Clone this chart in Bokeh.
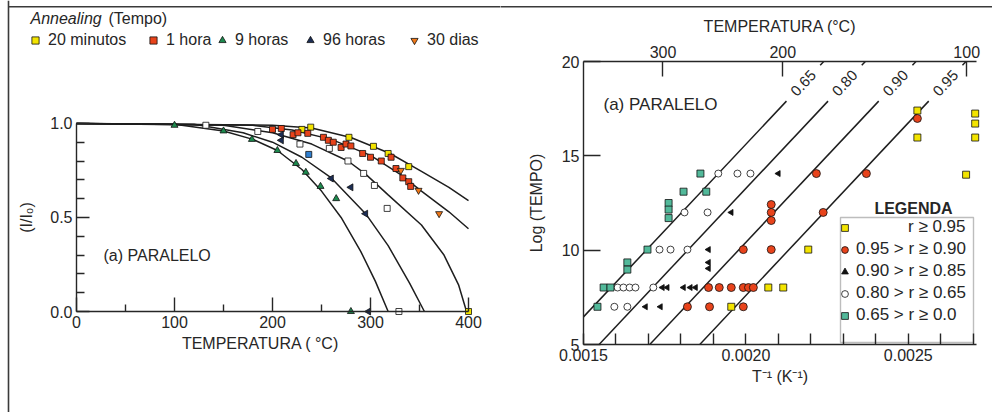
import math
from bokeh.plotting import figure
from bokeh.layouts import row
from bokeh.models import (Range1d, FixedTicker, LinearAxis, Label, BoxAnnotation, Span,
                          Legend, LegendItem, PrintfTickFormatter, CustomJSTickFormatter)
from bokeh.embed import file_html
from bokeh.resources import INLINE

FONT = "Liberation Sans"
INK = "#262626"
FS = "16px"

# ---------------- (a) PARALELO : I/I0 versus annealing temperature ----------------
# fitted annealing curves, (temperature in C, I/I0)
curva1_t = [0, 100, 150, 180, 205, 230, 250, 270, 290, 305, 318]
curva1_i = [1.0, 0.995, 0.96, 0.915, 0.856, 0.755, 0.64, 0.50, 0.32, 0.16, 0.0]
curva2_t = [0, 120, 170, 200, 230, 260, 295, 318, 340, 355]
curva2_i = [1.0, 0.995, 0.95, 0.90, 0.82, 0.71, 0.52, 0.35, 0.15, 0.0]
curva3_t = [0, 150, 200, 240, 277, 295, 318, 352, 375, 390, 398]
curva3_i = [1.0, 0.99, 0.95, 0.89, 0.80, 0.73, 0.62, 0.46, 0.30, 0.14, 0.0]
curva4_t = [0, 180, 220, 260, 300, 330, 352, 380, 400]
curva4_i = [1.0, 0.99, 0.965, 0.915, 0.83, 0.73, 0.64, 0.53, 0.44]
curva5_t = [0, 200, 240, 280, 320, 352, 380, 400]
curva5_i = [1.0, 0.99, 0.975, 0.925, 0.84, 0.745, 0.66, 0.59]

# measured points per annealing time
min20_t = [230, 239, 278, 303, 318, 339, 400]
min20_i = [0.968, 0.98, 0.926, 0.878, 0.84, 0.77, 0.0]
hora1_t = [200, 209, 221, 226, 236, 252, 257, 262, 270, 275, 280, 292, 300, 311, 321, 326, 333, 339, 341]
hora1_i = [0.968, 0.973, 0.94, 0.95, 0.947, 0.926, 0.91, 0.90, 0.872, 0.89, 0.88, 0.84, 0.82, 0.80, 0.82, 0.76, 0.71, 0.69, 0.665]
horas9_t = [100, 150, 179, 205, 224, 234, 249, 265, 280]
horas9_i = [0.99, 0.96, 0.915, 0.856, 0.787, 0.74, 0.665, 0.60, 0.0]
horas96_t = [209, 209, 260, 280, 295, 298]
horas96_i = [0.94, 0.91, 0.707, 0.66, 0.52, 0.0]
dias30_t = [331, 349, 370]
dias30_i = [0.75, 0.644, 0.52]
abertos_t = [132, 185, 228, 258, 277, 293, 304, 317, 329]
abertos_i = [0.99, 0.957, 0.89, 0.867, 0.80, 0.734, 0.67, 0.548, 0.0]
azul_t = [237]
azul_i = [0.835]

series_names = ["20 minutos", "1 hora", "9 horas", "96 horas", "30 dias"]

# ---------------- (a) PARALELO : Log(tempo) versus 1/T ----------------
r_classes = ["r \u2265 0.95", "0.95 > r \u2265 0.90", "0.90 > r \u2265 0.85",
             "0.80 > r \u2265 0.65", "0.65 > r \u2265 0.0"]
c1_x = [0.001955, 0.002069, 0.002115, 0.002192, 0.002528, 0.002528, 0.002678, 0.002706, 0.002706, 0.002706]
c1_y = [7.0, 8.02, 8.02, 10.03, 17.4, 15.97, 14.0, 17.24, 16.71, 15.97]
c2_x = [0.00182, 0.001888, 0.001992, 0.001885, 0.001918, 0.001955, 0.001992, 0.002008, 0.002023,
        0.001992, 0.002078, 0.002078, 0.002078, 0.002078, 0.002238, 0.002217, 0.002371, 0.002528]
c2_y = [7.0, 7.0, 7.0, 8.02, 8.02, 8.02, 8.02, 8.02, 8.02,
        10.03, 10.03, 12.42, 12.0, 11.57, 12.0, 14.06, 14.06, 16.98]
c3_x = [0.001691, 0.001737, 0.001743, 0.001758, 0.001808, 0.001829, 0.001845, 0.001885, 0.001885,
        0.001885, 0.001955, 0.0021]
c3_y = [7.0, 7.0, 8.02, 8.02, 8.02, 8.02, 8.02, 9.35, 9.03, 10.03, 12.0, 14.06]
c4_x = [0.001595, 0.001635, 0.001605, 0.001623, 0.001642, 0.00166, 0.001715, 0.001734, 0.001768,
        0.00182, 0.001811, 0.001882, 0.001915, 0.001974, 0.002014]
c4_y = [7.0, 7.0, 8.02, 8.02, 8.02, 8.02, 8.02, 10.03, 10.03, 10.03, 12.0, 12.0, 14.06, 14.06, 14.06]
c5_x = [0.001543, 0.001562, 0.001583, 0.001635, 0.001635, 0.001697, 0.001762, 0.001762, 0.001762,
        0.001808, 0.001878, 0.00186]
c5_y = [7.0, 8.02, 8.02, 9.35, 8.97, 10.03, 12.5, 12.15, 11.7, 13.1, 13.1, 14.06]

# iso-reduction lines: value, 1/T where Log(tempo)=5, common slope
iso_labels = ["0.65", "0.80", "0.90", "0.95"]
iso_x5 = [0.001420, 0.001548, 0.001704, 0.001858]
iso_slope = 18300.0

top_ticks_c = [300, 200, 100]

YEL, RED, GRN, NAVY, ORG, TEAL, BLUE = "#f3e400", "#e8431b", "#1d8a4e", "#1c2d55", "#f07818", "#52b99a", "#2f7fd0"
EDGE = "#3a3a3a"
H = 412


def style_axis(ax, tick_in, minor_in):
    ax.axis_line_color = INK
    ax.axis_line_width = 1.4
    ax.major_tick_line_color = INK
    ax.major_tick_line_width = 1.4
    ax.minor_tick_line_color = INK
    ax.minor_tick_line_width = 1.4
    ax.major_tick_in = tick_in
    ax.major_tick_out = 0
    ax.minor_tick_in = minor_in
    ax.minor_tick_out = 0
    ax.major_label_text_font = FONT
    ax.major_label_text_font_size = FS
    ax.major_label_text_color = INK
    ax.major_label_standoff = 4
    ax.axis_label_text_font = FONT
    ax.axis_label_text_font_size = FS
    ax.axis_label_text_font_style = "normal"
    ax.axis_label_text_color = INK


def bare_figure(w, xr, yr):
    # the frame fills the whole canvas (no title panel); axes are pinned inside with fixed_location
    f = figure(width=w, height=H, x_range=Range1d(*xr), y_range=Range1d(*yr), title=None,
               output_backend="svg", toolbar_location=None,
               min_border_left=0, min_border_right=0, min_border_top=0, min_border_bottom=0)
    f.grid.visible = False
    f.outline_line_color = None
    return f


# ---------- left panel (canvas x 0..500) ----------
LX0, LSX = 76.0, 0.98          # px of T=0, px per degree
LY0, LSY = 311.0, 190 / 1.01   # px of I=0, px per unit


def lx(px):
    return (px - LX0) / LSX


def ly(py):
    return (LY0 - py) / LSY


left = bare_figure(500, (lx(0), lx(500)), (ly(H), ly(0)))
xa, ya = left.xaxis[0], left.yaxis[0]
xa.fixed_location = 0
ya.fixed_location = 0
xa.bounds = (0, 400)
ya.bounds = (0, 1.0)
xa.ticker = FixedTicker(ticks=[0, 100, 200, 300, 400], minor_ticks=[50, 150, 250, 350])
ya.ticker = FixedTicker(ticks=[0, 0.5, 1.0], minor_ticks=[0.1, 0.2, 0.3, 0.4, 0.6, 0.7, 0.8, 0.9])
ya.formatter = PrintfTickFormatter(format="%.1f")
style_axis(xa, 14, 7)
style_axis(ya, 13, 8)
ya.axis_label = "(I/I\u2080)"
ya.axis_label_standoff = 12

for ct, ci in [(curva1_t, curva1_i), (curva2_t, curva2_i), (curva3_t, curva3_i),
               (curva4_t, curva4_i), (curva5_t, curva5_i)]:
    left.line(ct, ci, line_color="#1e1e1e", line_width=1.5)

mk = dict(line_color="#111111", line_width=0.8)
left.scatter(abertos_t, abertos_i, marker="square", size=6, fill_color="white", **mk)
left.scatter(azul_t, azul_i, marker="square", size=6, fill_color=BLUE, **mk)
r20 = left.scatter(min20_t, min20_i, marker="square", size=6, fill_color=YEL, **mk)
r1 = left.scatter(hora1_t, hora1_i, marker="square", size=6, fill_color=RED, **mk)
r9 = left.scatter(horas9_t, horas9_i, marker="triangle", size=7, fill_color=GRN, **mk)
r96 = left.scatter(horas96_t, horas96_i, marker="triangle", angle=math.pi / 2, size=7, fill_color=NAVY, **mk)
r30 = left.scatter(dias30_t, dias30_i, marker="inverted_triangle", size=7, fill_color=ORG, **mk)

# outer border of the figure: left side and top side
left.add_layout(Span(location=lx(8), dimension="height", line_color=EDGE, line_width=1.6))
left.add_layout(BoxAnnotation(left=lx(8), right=lx(520), top=ly(5.5), bottom=ly(7),
                              fill_color=EDGE, fill_alpha=1.0, line_alpha=0, level="overlay"))

left.add_layout(Label(x=lx(30), y=ly(18), text="Annealing", text_font=FONT, text_font_size=FS,
                      text_font_style="italic", text_baseline="middle", text_color=INK))
left.add_layout(Label(x=lx(108), y=ly(18), text="(Tempo)", text_font=FONT, text_font_size=FS,
                      text_baseline="middle", text_color=INK))
left.add_layout(Label(x=lx(103), y=ly(255), text="(a) PARALELO", text_font=FONT, text_font_size=FS,
                      text_baseline="middle", text_color=INK))
left.add_layout(Label(x=lx(260), y=ly(343), text="TEMPERATURA ( \u00b0C)", text_font=FONT, text_font_size=FS,
                      text_align="center", text_baseline="middle", text_color=INK))

# one small legend per annealing time, laid out in a row above the panel
for name, rend, gx in zip(series_names, [r20, r1, r9, r96, r30], [35, 153, 222, 310, 414]):
    lg = Legend(items=[LegendItem(label=name, renderers=[rend])],
                location=(gx - 9, H - 50), orientation="horizontal",
                padding=0, margin=0, spacing=0, border_line_color=None, background_fill_alpha=0,
                glyph_width=18, glyph_height=18, label_standoff=4, label_height=20,
                label_text_font=FONT, label_text_font_size=FS, label_text_color=INK)
    left.add_layout(lg)

# ---------- right panel (canvas x 500..992) ----------
RXP, RX0, RSX = 583.0, 0.0015, 393 / 0.00121   # page px of 1/T=0.0015, px per K^-1
RYP, RY0, RSY = 344.0, 5.0, 283 / 15            # px of Log=5, px per unit


def rx(px):
    return RX0 + (px - RXP) / RSX


def ry(py):
    return RY0 + (RYP - py) / RSY


X_END = 0.00271
right = bare_figure(492, (rx(500), rx(992)), (ry(H), ry(0)))
bx, by = right.xaxis[0], right.yaxis[0]
bx.fixed_location = 5
by.fixed_location = RX0
bx.bounds = (RX0, X_END)
by.bounds = (5, 20)
bx.ticker = FixedTicker(ticks=[0.0015, 0.0020, 0.0025],
                        minor_ticks=[0.0016, 0.0017, 0.0018, 0.0019, 0.0021, 0.0022, 0.0023, 0.0024, 0.0026, 0.0027])
bx.formatter = PrintfTickFormatter(format="%.4f")
by.ticker = FixedTicker(ticks=[5, 10, 15, 20])
style_axis(bx, 11, 11)
style_axis(by, 17, 0)
bx.axis_label = "T\u207b\u00b9 (K\u207b\u00b9)"
bx.axis_label_standoff = 4
by.axis_label = "Log (TEMPO)"
by.axis_label_standoff = 14

top = LinearAxis(ticker=FixedTicker(ticks=[1.0 / (c + 273.15) for c in top_ticks_c]),
                 formatter=CustomJSTickFormatter(code="return Math.round(1/tick - 273.15).toString()"),
                 axis_label="TEMPERATURA (\u00b0C)", fixed_location=20, bounds=(RX0, X_END))
style_axis(top, 15, 0)
top.axis_label_standoff = 8
right.add_layout(top, "above")

right.add_layout(BoxAnnotation(left=rx(480), right=rx(1010), top=ry(5.5), bottom=ry(7),
                               fill_color=EDGE, fill_alpha=1.0, line_alpha=0, level="overlay"))

# iso lines, kept inside the axes and broken where their value is written
ang = math.atan(iso_slope * RSY / RSX)
y_lab, gap = 18.85, 0.95
x0s, y0s, x1s, y1s = [], [], [], []
for lab, x5 in zip(iso_labels, iso_x5):
    y_start = max(5.0, 5.0 + (RX0 - x5) * iso_slope)
    for ya0, ya1 in [(y_start, y_lab - gap), (y_lab + gap, 20)]:
        x0s.append(x5 + (ya0 - 5) / iso_slope)
        y0s.append(ya0)
        x1s.append(x5 + (ya1 - 5) / iso_slope)
        y1s.append(ya1)
    right.add_layout(Label(x=x5 + (y_lab - 5) / iso_slope, y=y_lab, text=lab, angle=ang,
                           text_font=FONT, text_font_size="15px", text_align="center",
                           text_baseline="middle", text_color=INK))
right.segment(x0s, y0s, x1s, y1s, line_color="#1e1e1e", line_width=1.5)

k1 = right.scatter(c1_x, c1_y, marker="square", size=7, fill_color=YEL, **mk)
k2 = right.scatter(c2_x, c2_y, marker="circle", size=8, fill_color=RED, **mk)
k3 = right.scatter(c3_x, c3_y, marker="triangle", angle=math.pi / 2, size=6, fill_color="#111111", **mk)
k4 = right.scatter(c4_x, c4_y, marker="circle", size=7, fill_color="white", **mk)
k5 = right.scatter(c5_x, c5_y, marker="square", size=7, fill_color=TEAL, **mk)

right.add_layout(Label(x=rx(603), y=ry(104), text="(a) PARALELO", text_font=FONT, text_font_size="17px",
                       text_baseline="middle", text_color=INK))
right.add_layout(Label(x=rx(913), y=ry(208), text="LEGENDA", text_font=FONT, text_font_size=FS,
                       text_font_style="bold", text_align="center", text_baseline="middle", text_color=INK))
right.add_layout(BoxAnnotation(left=rx(840), right=rx(973), top=ry(217), bottom=ry(342),
                               fill_alpha=0, line_color=INK, line_width=1.4))
pad_first = "\u2007" * 5 + "\u00a0"
labels = [pad_first + r_classes[0]] + r_classes[1:]
leg_r = Legend(items=[LegendItem(label=t, renderers=[k]) for t, k in zip(labels, [k1, k2, k3, k4, k5])],
               location=(836 - 500, H - 325), orientation="vertical",
               padding=4, margin=0, spacing=2, border_line_color=None, background_fill_alpha=0,
               glyph_width=17, glyph_height=17, label_standoff=3, label_height=17,
               label_text_font=FONT, label_text_font_size="17px", label_text_color=INK)
right.add_layout(leg_r)

layout = row(left, right)
open("out.html", "w").write(file_html(layout, INLINE))
